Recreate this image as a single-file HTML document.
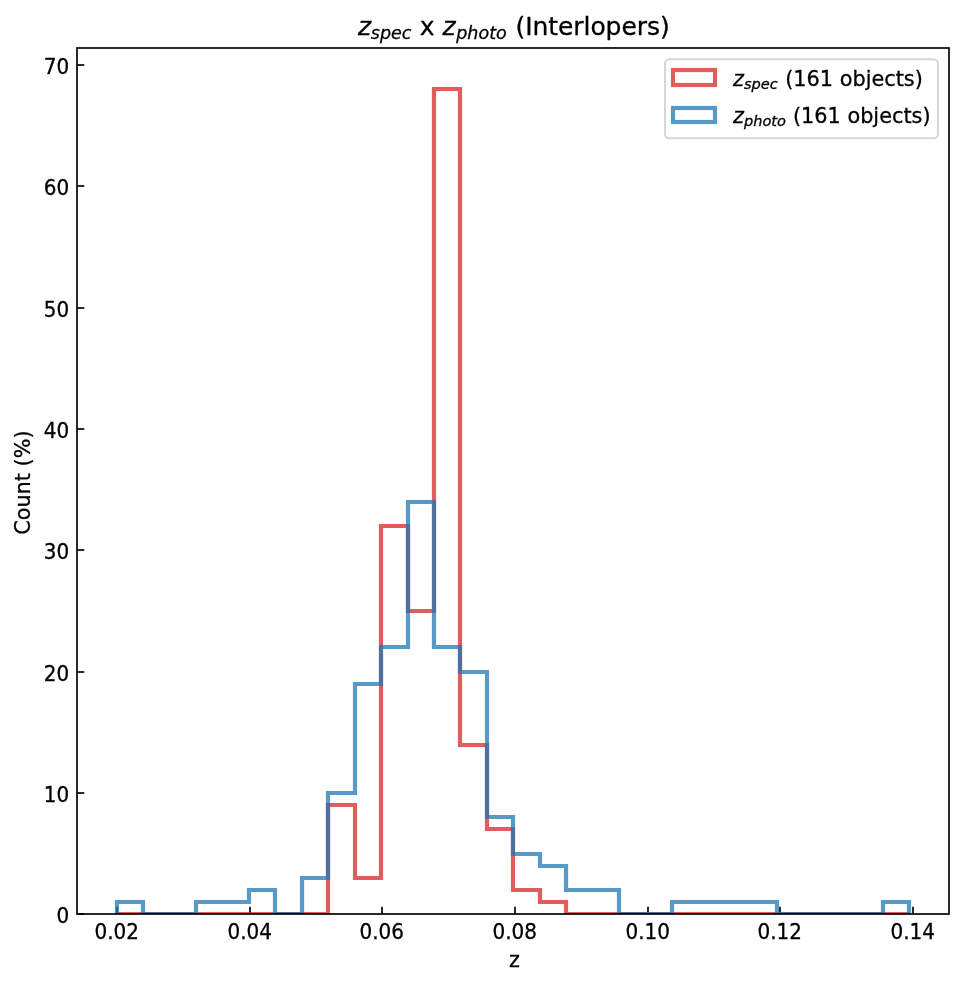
<!DOCTYPE html>
<html lang="en"><head><meta charset="utf-8"><title>z_spec x z_photo (Interlopers)</title>
<style>html,body{margin:0;padding:0;background:#fff}svg{display:block}text{font-family:"DejaVu Sans","Liberation Sans",sans-serif;fill:#000;stroke:#000;stroke-width:0.3px}.i{font-style:oblique}</style></head><body>
<svg width="964" height="985" viewBox="0 0 964 985">
<rect width="964" height="985" fill="#fff"/>
<line x1="117.00" y1="914.00" x2="117.00" y2="906.71" stroke="#000" stroke-width="1.67"/>
<line x1="250.00" y1="914.00" x2="250.00" y2="906.71" stroke="#000" stroke-width="1.67"/>
<line x1="382.00" y1="914.00" x2="382.00" y2="906.71" stroke="#000" stroke-width="1.67"/>
<line x1="515.00" y1="914.00" x2="515.00" y2="906.71" stroke="#000" stroke-width="1.67"/>
<line x1="648.00" y1="914.00" x2="648.00" y2="906.71" stroke="#000" stroke-width="1.67"/>
<line x1="780.00" y1="914.00" x2="780.00" y2="906.71" stroke="#000" stroke-width="1.67"/>
<line x1="913.00" y1="914.00" x2="913.00" y2="906.71" stroke="#000" stroke-width="1.67"/>
<line x1="77.00" y1="914.00" x2="84.29" y2="914.00" stroke="#000" stroke-width="1.67"/>
<line x1="77.00" y1="793.00" x2="84.29" y2="793.00" stroke="#000" stroke-width="1.67"/>
<line x1="77.00" y1="672.00" x2="84.29" y2="672.00" stroke="#000" stroke-width="1.67"/>
<line x1="77.00" y1="550.00" x2="84.29" y2="550.00" stroke="#000" stroke-width="1.67"/>
<line x1="77.00" y1="429.00" x2="84.29" y2="429.00" stroke="#000" stroke-width="1.67"/>
<line x1="77.00" y1="308.00" x2="84.29" y2="308.00" stroke="#000" stroke-width="1.67"/>
<line x1="77.00" y1="186.00" x2="84.29" y2="186.00" stroke="#000" stroke-width="1.67"/>
<line x1="77.00" y1="65.00" x2="84.29" y2="65.00" stroke="#000" stroke-width="1.67"/>
<clipPath id="ax"><rect x="77" y="48" width="872" height="866"/></clipPath>
<g clip-path="url(#ax)">
<path d="M117.00 914.00 L143.00 914.00 L170.00 914.00 L196.00 914.00 L223.00 914.00 L249.00 914.00 L275.00 914.00 L302.00 914.00 L328.00 914.00 L328.00 805.00 L355.00 805.00 L355.00 878.00 L381.00 878.00 L381.00 526.00 L408.00 526.00 L408.00 611.00 L434.00 611.00 L434.00 89.00 L460.00 89.00 L460.00 745.00 L487.00 745.00 L487.00 829.00 L513.00 829.00 L513.00 890.00 L540.00 890.00 L540.00 902.00 L566.00 902.00 L566.00 914.00 L592.00 914.00 L619.00 914.00 L645.00 914.00 L672.00 914.00 L698.00 914.00 L724.00 914.00 L751.00 914.00 L777.00 914.00 L804.00 914.00 L830.00 914.00 L856.00 914.00 L883.00 914.00 L909.00 914.00" fill="none" stroke="rgb(214,39,40)" stroke-opacity="0.75" stroke-width="4.17" stroke-linejoin="miter" stroke-miterlimit="10"/>
<path d="M117.00 914.00 L117.00 902.00 L143.00 902.00 L143.00 914.00 L170.00 914.00 L196.00 914.00 L196.00 902.00 L223.00 902.00 L249.00 902.00 L249.00 890.00 L275.00 890.00 L275.00 914.00 L302.00 914.00 L302.00 878.00 L328.00 878.00 L328.00 793.00 L355.00 793.00 L355.00 684.00 L381.00 684.00 L381.00 647.00 L408.00 647.00 L408.00 502.00 L434.00 502.00 L434.00 647.00 L460.00 647.00 L460.00 672.00 L487.00 672.00 L487.00 817.00 L513.00 817.00 L513.00 854.00 L540.00 854.00 L540.00 866.00 L566.00 866.00 L566.00 890.00 L592.00 890.00 L619.00 890.00 L619.00 914.00 L645.00 914.00 L672.00 914.00 L672.00 902.00 L698.00 902.00 L724.00 902.00 L751.00 902.00 L777.00 902.00 L777.00 914.00 L804.00 914.00 L830.00 914.00 L856.00 914.00 L883.00 914.00 L883.00 902.00 L909.00 902.00 L909.00 914.00" fill="none" stroke="rgb(31,119,180)" stroke-opacity="0.75" stroke-width="4.17" stroke-linejoin="miter" stroke-miterlimit="10"/>
</g>
<rect x="77.00" y="48.00" width="872.00" height="866.00" fill="none" stroke="#000" stroke-width="1.67" stroke-linejoin="miter"/>
<text transform="translate(116.70 939.00) scale(0.96 1.03)" font-size="20.83" text-anchor="middle">0.02</text>
<text transform="translate(249.70 939.00) scale(0.96 1.03)" font-size="20.83" text-anchor="middle">0.04</text>
<text transform="translate(381.70 939.00) scale(0.96 1.03)" font-size="20.83" text-anchor="middle">0.06</text>
<text transform="translate(514.70 939.00) scale(0.96 1.03)" font-size="20.83" text-anchor="middle">0.08</text>
<text transform="translate(647.70 939.00) scale(0.96 1.03)" font-size="20.83" text-anchor="middle">0.10</text>
<text transform="translate(779.70 939.00) scale(0.96 1.03)" font-size="20.83" text-anchor="middle">0.12</text>
<text transform="translate(912.70 939.00) scale(0.96 1.03)" font-size="20.83" text-anchor="middle">0.14</text>
<text transform="translate(69.30 922.80) scale(0.96 1.03)" font-size="20.83" text-anchor="end">0</text>
<text transform="translate(69.30 801.80) scale(0.96 1.03)" font-size="20.83" text-anchor="end">10</text>
<text transform="translate(69.30 680.80) scale(0.96 1.03)" font-size="20.83" text-anchor="end">20</text>
<text transform="translate(69.30 558.80) scale(0.96 1.03)" font-size="20.83" text-anchor="end">30</text>
<text transform="translate(69.30 437.80) scale(0.96 1.03)" font-size="20.83" text-anchor="end">40</text>
<text transform="translate(69.30 316.80) scale(0.96 1.03)" font-size="20.83" text-anchor="end">50</text>
<text transform="translate(69.30 194.80) scale(0.96 1.03)" font-size="20.83" text-anchor="end">60</text>
<text transform="translate(69.30 73.80) scale(0.96 1.03)" font-size="20.83" text-anchor="end">70</text>
<text x="514.50" y="966.80" font-size="20.83" text-anchor="middle">z</text>
<text transform="translate(29.70 482.60) rotate(-90)" font-size="20.83" text-anchor="middle">Count (%)</text>
<text x="358.10" y="35.00" font-size="25.00" class="i">z</text>
<text x="370.80" y="39.20" font-size="17.50" class="i">spec</text>
<text x="419.75" y="35.00" font-size="25.00">x</text>
<text x="442.55" y="35.00" font-size="25.00" class="i">z</text>
<text x="456.25" y="39.20" font-size="17.50" class="i">photo</text>
<text x="515.50" y="35.00" font-size="25.00" letter-spacing="-0.07">(Interlopers)</text>
<rect x="665" y="59.2" width="273" height="79" rx="4.2" ry="4.2" fill="#fff" fill-opacity="0.8" stroke="#ccc" stroke-opacity="0.8" stroke-width="2.08"/>
<rect x="673" y="70" width="42" height="15" fill="none" stroke="rgb(214,39,40)" stroke-opacity="0.75" stroke-width="4.17"/>
<text x="733.10" y="86.00" font-size="20.83" class="i">z</text>
<text x="743.90" y="89.40" font-size="14.58" class="i">spec</text>
<text x="785.20" y="86.00" font-size="20.83">(161 objects)</text>
<rect x="673" y="108" width="42" height="14" fill="none" stroke="rgb(31,119,180)" stroke-opacity="0.75" stroke-width="4.17"/>
<text x="733.10" y="123.00" font-size="20.83" class="i">z</text>
<text x="743.90" y="126.40" font-size="14.58" class="i">photo</text>
<text x="792.90" y="123.00" font-size="20.83">(161 objects)</text>
</svg></body></html>
